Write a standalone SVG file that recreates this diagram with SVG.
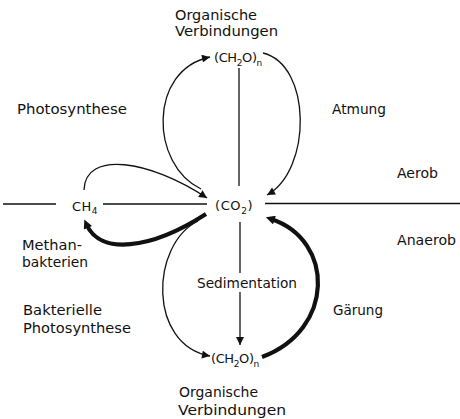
<svg xmlns="http://www.w3.org/2000/svg" width="460" height="419" viewBox="0 0 460 419">
<style>
text{font-family:"DejaVu Sans","Liberation Sans",sans-serif;font-size:14px;fill:#111}
.f{font-size:13px}
.s{font-size:9px}
.thin{fill:none;stroke:#111;stroke-width:1.3}
.thick{fill:none;stroke:#111;stroke-width:4.2}
</style>
<defs>
<marker id="a" viewBox="0 0 10 10" refX="10" refY="5" markerWidth="9" markerHeight="8" markerUnits="userSpaceOnUse" orient="auto"><path d="M0,0 L10,5 L0,10 z" fill="#111"/></marker>
<marker id="b" viewBox="0 0 10 10" refX="4" refY="5" markerWidth="10" markerHeight="9" markerUnits="userSpaceOnUse" orient="auto"><path d="M0,0 L10,5 L0,10 z" fill="#111"/></marker>
</defs>
<g id="connectors">
<line class="thin" x1="3" y1="204" x2="56" y2="204"/>
<line class="thin" x1="103" y1="204" x2="207" y2="204"/>
<line class="thin" x1="265" y1="203.5" x2="460" y2="203.5"/>
<line class="thin" x1="239" y1="68" x2="239" y2="186"/>
<line class="thin" x1="240" y1="222" x2="240" y2="273"/>
<line class="thin" x1="240" y1="292" x2="240" y2="345" marker-end="url(#a)"/>
<path class="thin" d="M201,189 C150,165 148,70 210,57" marker-end="url(#a)"/>
<path class="thin" d="M263,53 C312,65 312,170 267,195" marker-end="url(#a)"/>
<path class="thin" d="M84,190 C85,150 150,160 207,198" marker-end="url(#a)"/>
<path class="thick" d="M206,214 C150,250 100,255 86.5,224.5" marker-end="url(#b)"/>
<path class="thin" d="M198,221 C150,245 148,345 210,356" marker-end="url(#a)"/>
<path class="thick" d="M262,357 C335,330 335,240 271,219" marker-end="url(#b)"/>
</g>
<g id="node-ch2o-top">
<text x="175" y="20" textLength="82" lengthAdjust="spacingAndGlyphs">Organische</text>
<text x="175" y="36" textLength="103" lengthAdjust="spacingAndGlyphs">Verbindungen</text>
<text class="f" x="214" y="62" letter-spacing="-0.4">(CH<tspan class="s" dy="4">2</tspan><tspan dy="-4">O)</tspan><tspan class="s" dy="4">n</tspan></text>
</g>
<g id="node-co2">
<text class="f" x="215" y="210" letter-spacing="0.6">(CO<tspan class="s" dy="4">2</tspan><tspan dy="-4">)</tspan></text>
</g>
<g id="node-ch4">
<text class="f" x="72" y="211" letter-spacing="0.5">CH<tspan class="s" dy="3">4</tspan></text>
</g>
<g id="node-ch2o-bottom">
<text class="f" x="211" y="363" letter-spacing="-0.4">(CH<tspan class="s" dy="4">2</tspan><tspan dy="-4">O)</tspan><tspan class="s" dy="4">n</tspan></text>
<text x="179" y="397" textLength="79" lengthAdjust="spacingAndGlyphs">Organische</text>
<text x="178" y="415" textLength="108" lengthAdjust="spacingAndGlyphs">Verbindungen</text>
</g>
<g id="labels">
<text x="17" y="114" textLength="110" lengthAdjust="spacingAndGlyphs">Photosynthese</text>
<text x="332" y="114" textLength="54" lengthAdjust="spacingAndGlyphs">Atmung</text>
<text x="397" y="178" textLength="41" lengthAdjust="spacingAndGlyphs">Aerob</text>
<text x="397" y="245" textLength="59" lengthAdjust="spacingAndGlyphs">Anaerob</text>
<text x="22" y="250" textLength="60" lengthAdjust="spacingAndGlyphs">Methan-</text>
<text x="22" y="267" textLength="66" lengthAdjust="spacingAndGlyphs">bakterien</text>
<text x="23" y="315" textLength="79" lengthAdjust="spacingAndGlyphs">Bakterielle</text>
<text x="23" y="333" textLength="108" lengthAdjust="spacingAndGlyphs">Photosynthese</text>
<text x="333" y="315" textLength="50" lengthAdjust="spacingAndGlyphs">Gärung</text>
<text x="197" y="288" textLength="100" lengthAdjust="spacingAndGlyphs">Sedimentation</text>
</g>
</svg>
